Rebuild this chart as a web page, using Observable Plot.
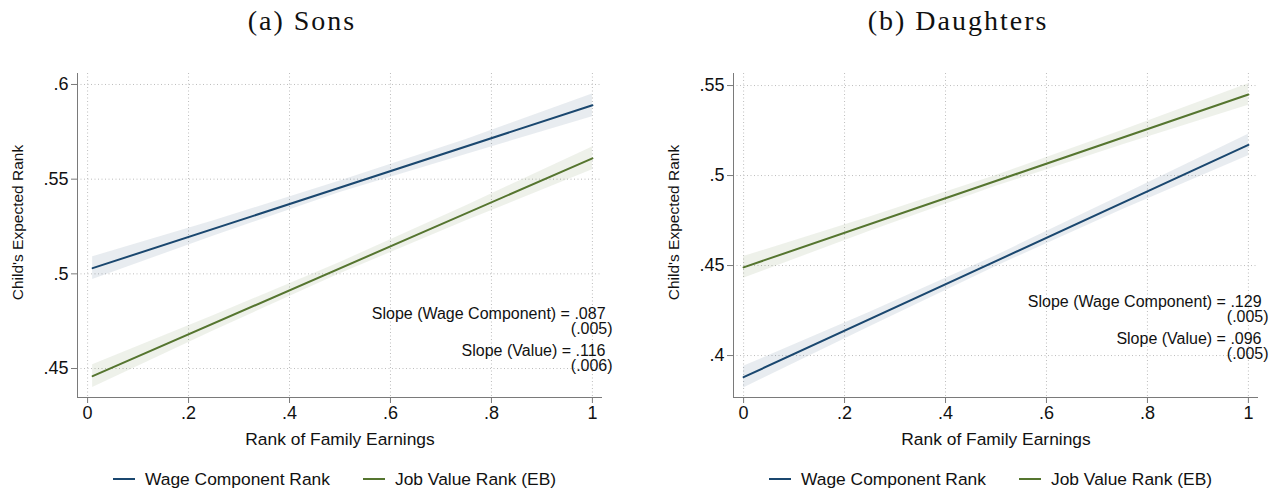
<!DOCTYPE html>
<html>
<head>
<meta charset="utf-8">
<script src="https://cdn.jsdelivr.net/npm/d3@7"></script>
<script src="https://cdn.jsdelivr.net/npm/@observablehq/plot@0.6"></script>
<style>
  html, body { margin: 0; padding: 0; background: #fff; }
  #root { position: relative; width: 1279px; height: 493px; overflow: hidden; font-family: "Liberation Sans", Arial, sans-serif; color: #111; }
  .panel { position: absolute; top: 0; width: 623px; height: 493px; }
  .title { position: absolute; left: 0; width: 604px; top: 6px; text-align: center; font-family: "Liberation Serif", serif; font-size: 28px; line-height: 30px; letter-spacing: 2px; color: #111; }
  .plot { position: absolute; left: 0; top: 40px; }
  .legend { position: absolute; left: 113px; top: 468px; height: 22px; display: flex; align-items: center; font-size: 17.4px; line-height: 22px; white-space: nowrap; }
  .item { display: flex; align-items: center; }
  .item + .item { margin-left: 33px; }
  .sw { width: 22px; height: 0; border-top: 2px solid; margin-right: 10px; }
</style>
</head>
<body>
<div id="root"></div>
<script>
// ---------- data ----------
const seriesNames = ["Wage Component Rank", "Job Value Rank (EB)"];
const seriesColors = ["#1a476f", "#55752f"];

const xTicks = [0, 0.2, 0.4, 0.6, 0.8, 1];
const panelTitles = ["(a) Sons", "(b) Daughters"];
const xTitle = "Rank of Family Earnings";
const yTitle = "Child's Expected Rank";

// Sons
const sonsYTicks = [0.45, 0.5, 0.55, 0.6];
const sonsYDomain = [0.4347, 0.6058];
const sonsLineX = [0.01, 1];
const sonsWage = [0.503, 0.589];
const sonsValue = [0.446, 0.561];
const sonsBandX = [0.01, 0.25, 0.5, 0.75, 1];
const sonsWageLo = [0.497, 0.520, 0.543, 0.563, 0.583];
const sonsWageHi = [0.509, 0.528, 0.549, 0.571, 0.595];
const sonsValueLo = [0.440, 0.470, 0.500, 0.528, 0.555];
const sonsValueHi = [0.452, 0.478, 0.506, 0.536, 0.567];
const sonsNotes = ["Slope (Wage Component) = .087", "(.005)", "Slope (Value) = .116", "(.006)"];

// Daughters
const dauYTicks = [0.4, 0.45, 0.5, 0.55];
const dauYDomain = [0.3767, 0.5567];
const dauLineX = [0, 1];
const dauWage = [0.388, 0.517];
const dauValue = [0.449, 0.545];
const dauBandX = [0, 0.25, 0.5, 0.75, 1];
const dauWageLo = [0.382, 0.416, 0.4495, 0.481, 0.511];
const dauWageHi = [0.394, 0.424, 0.4555, 0.489, 0.523];
const dauValueLo = [0.443, 0.469, 0.494, 0.517, 0.539];
const dauValueHi = [0.455, 0.477, 0.500, 0.525, 0.551];
const dauNotes = ["Slope (Wage Component) = .129", "(.005)", "Slope (Value) = .096", "(.005)"];

// ---------- build ----------
const fmt = d => d === 0 ? "0" : d === 1 ? "1" : String(d).replace(/^0/, "");
const xDomain = [-0.02, 1.02];

function rowsLine(xs, a, b) {
  return [
    ...xs.map((x, i) => ({x, y: a[i], s: seriesNames[0]})),
    ...xs.map((x, i) => ({x, y: b[i], s: seriesNames[1]}))
  ];
}
function rowsBand(xs, alo, ahi, blo, bhi) {
  return [
    ...xs.map((x, i) => ({x, lo: alo[i], hi: ahi[i], s: seriesNames[0]})),
    ...xs.map((x, i) => ({x, lo: blo[i], hi: bhi[i], s: seriesNames[1]}))
  ];
}

function makePanel(cfg) {
  const [y0, y1] = cfg.yDomain;
  const pxPerUnit = 324 / (y1 - y0);
  const yAt = px => y1 - px / pxPerUnit;
  const notes = cfg.notes.map((t, i) => ({
    t,
    x: i % 2 === 0 ? 1.026 : 1.040,
    y: yAt(cfg.noteTop + [0, 15, 37, 52][i])
  }));
  return Plot.plot({
    width: 623,
    height: 420,
    marginLeft: 77,
    marginRight: 21,
    marginTop: 33,
    marginBottom: 63,
    x: {domain: xDomain},
    y: {domain: cfg.yDomain},
    color: {domain: seriesNames, range: seriesColors},
    style: {fontFamily: "'Liberation Sans', Arial, sans-serif", fontSize: "17px", color: "#111", background: "white", overflow: "visible"},
    marks: [
      Plot.gridX(xTicks, {stroke: "#bdbdbd", strokeOpacity: 1, strokeDasharray: "1,2.5"}),
      Plot.gridY(cfg.yTicks, {stroke: "#bdbdbd", strokeOpacity: 1, strokeDasharray: "1,2.5"}),
      Plot.areaY(cfg.bands, {x: "x", y1: "lo", y2: "hi", fill: "s", fillOpacity: 0.1, z: "s"}),
      Plot.line(cfg.lines, {x: "x", y: "y", stroke: "s", strokeWidth: 2, z: "s"}),
      Plot.ruleX([xDomain[0]], {stroke: "#7a7a7a", strokeWidth: 1}),
      Plot.ruleY([y0], {stroke: "#7a7a7a", strokeWidth: 1}),
      Plot.axisX(xTicks, {tickFormat: fmt, tickSize: 6, tickPadding: 3, stroke: "#7a7a7a", fill: "#111", fontSize: 18, label: null}),
      Plot.axisY(cfg.yTicks, {tickFormat: fmt, tickSize: 6, tickPadding: 3, stroke: "#7a7a7a", fill: "#111", fontSize: 18, label: null}),
      Plot.text([xTitle], {frameAnchor: "bottom", dy: 47, fontSize: 17.4, fill: "#111"}),
      Plot.text([yTitle], {frameAnchor: "left", dx: -59, dy: -13, rotate: -90, textAnchor: "middle", lineAnchor: "middle", fontSize: 15.5, fill: "#111"}),
      Plot.text(notes, {x: "x", y: "y", text: "t", textAnchor: "end", fontSize: 16, fill: "#111"})
    ]
  });
}

const root = document.getElementById("root");
const cfgs = [
  {
    left: 0, title: panelTitles[0], yDomain: sonsYDomain, yTicks: sonsYTicks,
    lines: rowsLine(sonsLineX, sonsWage, sonsValue),
    bands: rowsBand(sonsBandX, sonsWageLo, sonsWageHi, sonsValueLo, sonsValueHi),
    notes: sonsNotes, noteTop: 240
  },
  {
    left: 656, title: panelTitles[1], yDomain: dauYDomain, yTicks: dauYTicks,
    lines: rowsLine(dauLineX, dauWage, dauValue),
    bands: rowsBand(dauBandX, dauWageLo, dauWageHi, dauValueLo, dauValueHi),
    notes: dauNotes, noteTop: 228
  }
];

for (const cfg of cfgs) {
  const p = document.createElement("div");
  p.className = "panel";
  p.style.left = cfg.left + "px";
  const t = document.createElement("div");
  t.className = "title";
  t.textContent = cfg.title;
  p.appendChild(t);
  const plotWrap = document.createElement("div");
  plotWrap.className = "plot";
  plotWrap.appendChild(makePanel(cfg));
  p.appendChild(plotWrap);
  const lg = document.createElement("div");
  lg.className = "legend";
  seriesNames.forEach((name, i) => {
    const it = document.createElement("div");
    it.className = "item";
    const sw = document.createElement("span");
    sw.className = "sw";
    sw.style.borderTopColor = seriesColors[i];
    const tx = document.createElement("span");
    tx.textContent = name;
    it.appendChild(sw);
    it.appendChild(tx);
    lg.appendChild(it);
  });
  p.appendChild(lg);
  root.appendChild(p);
}
</script>
</body>
</html>
